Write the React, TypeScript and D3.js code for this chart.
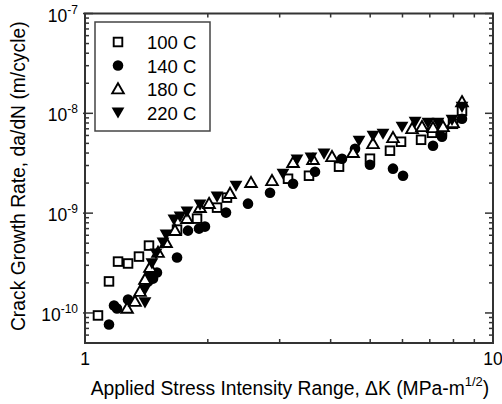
import React from "react";
import * as d3 from "d3";

const series100x = [1.076, 1.145, 1.205, 1.275, 1.356, 1.435, 1.681, 1.882, 2.107, 2.228, 3.145, 3.54, 4.194, 4.994, 5.591, 5.951, 6.663, 7.088, 7.499, 7.98, 8.395];
const series100y = [9.44e-11, 2.07e-10, 3.27e-10, 3.13e-10, 3.67e-10, 4.73e-10, 6.84e-10, 8.81e-10, 1.135e-9, 1.43e-9, 2.21e-9, 2.37e-9, 2.92e-9, 3.51e-9, 4.22e-9, 5.19e-9, 5.43e-9, 6.38e-9, 6.68e-9, 7.85e-9, 1.059e-8];

const series140x = [1.145, 1.178, 1.198, 1.275, 1.427, 1.468, 1.501, 1.681, 1.788, 1.903, 1.968, 2.216, 2.509, 2.841, 3.235, 3.662, 4.265, 4.59, 4.994, 5.687, 6.018, 7.128, 7.499, 8.395];
const series140y = [7.67e-11, 1.189e-10, 1.109e-10, 1.365e-10, 2.07e-10, 2.21e-10, 2.54e-10, 3.59e-10, 6.68e-10, 7.0e-10, 7.33e-10, 1.012e-9, 1.245e-9, 1.6e-9, 1.97e-9, 2.6e-9, 3.51e-9, 4.42e-9, 3.05e-9, 2.79e-9, 2.37e-9, 4.73e-9, 5.82e-9, 8.81e-9];

const series180x = [1.268, 1.326, 1.364, 1.403, 1.443, 1.51, 1.58, 1.662, 1.778, 1.914, 2.014, 2.267, 2.552, 2.873, 3.235, 3.621, 4.031, 4.539, 5.08, 5.687, 6.333, 6.699, 7.128, 7.541, 7.98, 8.395];
const series180y = [1.109e-10, 1.303e-10, 1.64e-10, 2.16e-10, 2.85e-10, 4.03e-10, 5.07e-10, 6.68e-10, 8.81e-10, 1.135e-9, 1.245e-9, 1.57e-9, 2.02e-9, 2.11e-9, 3.2e-9, 3.43e-9, 3.67e-9, 4.03e-9, 4.95e-9, 5.69e-9, 7.0e-9, 7.33e-9, 7.16e-9, 7.33e-9, 8.04e-9, 1.303e-8];

const series220x = [1.403, 1.403, 1.443, 1.459, 1.493, 1.553, 1.58, 1.652, 1.71, 1.778, 1.914, 2.107, 2.345, 3.057, 3.308, 3.58, 3.853, 4.695, 5.08, 5.375, 5.984, 6.441, 6.93, 7.332, 7.935, 8.395];
const series220y = [1.274e-10, 1.72e-10, 2.32e-10, 3.13e-10, 3.94e-10, 5.07e-10, 6.1e-10, 8.61e-10, 9.23e-10, 1.035e-9, 1.216e-9, 1.46e-9, 1.88e-9, 2.48e-9, 3.43e-9, 3.59e-9, 3.94e-9, 5.31e-9, 5.96e-9, 6.24e-9, 7.33e-9, 8.22e-9, 8.04e-9, 8.04e-9, 8.61e-9, 1.161e-8];

const legendLabels = ["100 C", "140 C", "180 C", "220 C"];
const xTickLabels = ["1", "10"];
const yTickExponents = ["-10", "-9", "-8", "-7"];

const W = 502, H = 404;
const L = 85, R = 493, T = 13.5, B = 343;
const FONT = "Arial, 'Liberation Sans', sans-serif";
const AX = "#333";

type Kind = "square" | "circle" | "tri" | "dtri";

function Marker({ kind, x, y }: { kind: Kind; x: number; y: number }) {
  if (kind === "square") {
    return <rect x={x - 4.3} y={y - 4.3} width={8.6} height={8.6} fill="white" stroke="black" strokeWidth={1.9} />;
  }
  if (kind === "circle") {
    return <circle cx={x} cy={y} r={5.3} fill="black" />;
  }
  if (kind === "tri") {
    const s = 5.8;
    return <path d={`M${x},${y - s}L${x + s},${y + s * 0.75}L${x - s},${y + s * 0.75}Z`} fill="white" stroke="black" strokeWidth={1.9} strokeLinejoin="miter" />;
  }
  const s = 6.4;
  return <path d={`M${x - s},${y - s * 0.8}L${x + s},${y - s * 0.8}L${x},${y + s * 0.95}Z`} fill="black" />;
}

export default function App() {
  const x = d3.scaleLog().domain([1, 10]).range([L, R]);
  const y = d3.scaleLog().domain([5e-11, 1e-7]).range([B, T]);

  const series: { kind: Kind; xs: number[]; ys: number[] }[] = [
    { kind: "square", xs: series100x, ys: series100y },
    { kind: "circle", xs: series140x, ys: series140y },
    { kind: "tri", xs: series180x, ys: series180y },
    { kind: "dtri", xs: series220x, ys: series220y },
  ];

  const xMinor = [2, 3, 4, 5, 6, 7, 8, 9];
  const yMajor = [1e-10, 1e-9, 1e-8, 1e-7];
  const yMinor: number[] = [];
  [1e-11, 1e-10, 1e-9, 1e-8].forEach((d) => {
    for (let m = 2; m <= 9; m++) {
      const v = m * d;
      if (v >= 5e-11 && v < 1e-7) yMinor.push(v);
    }
  });

  const legendKinds: Kind[] = ["square", "circle", "tri", "dtri"];

  return (
    <svg width={W} height={H} style={{ position: "absolute", left: 0, top: 0, background: "white" }} fontFamily={FONT}>
      <rect x={0} y={0} width={W} height={H} fill="white" />
      {series.map((s, si) => (
        <g key={si}>
          {s.xs.map((xv, i) => (
            <Marker key={i} kind={s.kind} x={x(xv)} y={y(s.ys[i])} />
          ))}
        </g>
      ))}
      <rect x={L} y={T} width={R - L} height={B - T} fill="none" stroke={AX} strokeWidth={2} />
      {xMinor.map((v) => (
        <g key={v}>
          <line x1={x(v)} x2={x(v)} y1={B} y2={B - 4} stroke={AX} strokeWidth={1.5} />
          <line x1={x(v)} x2={x(v)} y1={T} y2={T + 4} stroke={AX} strokeWidth={1.5} />
        </g>
      ))}
      {yMajor.map((v) => (
        <g key={v}>
          <line x1={L - 2} x2={L + 8} y1={y(v)} y2={y(v)} stroke={AX} strokeWidth={1.5} />
          <line x1={R} x2={R - 8} y1={y(v)} y2={y(v)} stroke={AX} strokeWidth={1.5} />
        </g>
      ))}
      {yMinor.map((v) => (
        <g key={v}>
          <line x1={L} x2={L + 4} y1={y(v)} y2={y(v)} stroke={AX} strokeWidth={1.5} />
          <line x1={R} x2={R - 4} y1={y(v)} y2={y(v)} stroke={AX} strokeWidth={1.5} />
        </g>
      ))}
      {[1, 10].map((v, i) => (
        <text key={v} x={x(v)} y={365} fontSize={17.5} textAnchor="middle" fill="black">
          {xTickLabels[i]}
        </text>
      ))}
      {yMajor.map((v, i) => (
        <text key={v} x={78} y={y(v) + 8} fontSize={17.5} textAnchor="end" fill="black">
          10
          <tspan fontSize={12} dy={-8}>{yTickExponents[i]}</tspan>
        </text>
      ))}
      <text x={(L + R) / 2 + 1} y={395} fontSize={19.3} textAnchor="middle" fill="black">
        Applied Stress Intensity Range, ΔK (MPa-m
        <tspan fontSize={13} dy={-9}>1/2</tspan>
        <tspan dy={9}>)</tspan>
      </text>
      <text transform={`translate(25,${(T + B) / 2 - 2}) rotate(-90)`} fontSize={19.3} textAnchor="middle" fill="black">
        Crack Growth Rate, da/dN (m/cycle)
      </text>
      <rect x={95} y={22} width={115} height={109} fill="white" stroke="#444" strokeWidth={1.5} />
      {legendLabels.map((lab, i) => (
        <g key={lab}>
          <Marker kind={legendKinds[i]} x={118} y={42 + i * 23.5} />
          <text x={147} y={49 + i * 23.5} fontSize={18.5} fill="black">
            {lab}
          </text>
        </g>
      ))}
    </svg>
  );
}
